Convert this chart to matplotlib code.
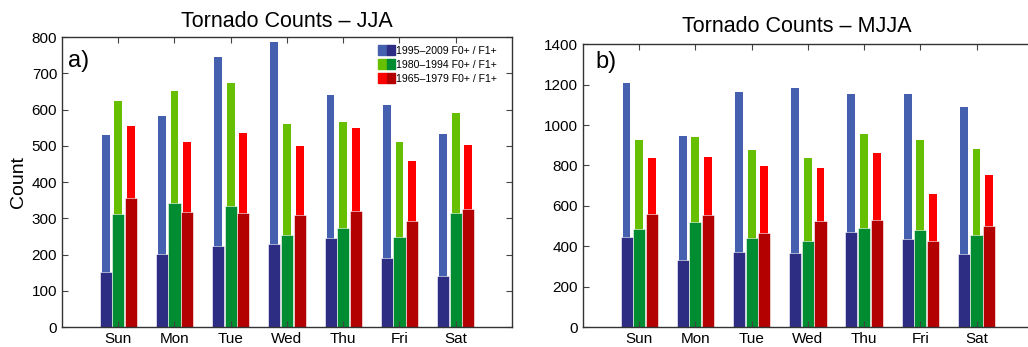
"""
Tornado counts by day of week: JJA and MJJA seasons, three periods, F0+ / F1+.
"""

import numpy as np
import matplotlib
matplotlib.use('Agg')
import matplotlib.pyplot as plt
from matplotlib.legend_handler import HandlerTuple
from matplotlib.patches import Patch

plt.rcParams['font.family'] = ['Liberation Sans', 'DejaVu Sans']

days = ['Sun', 'Mon', 'Tue', 'Wed', 'Thu', 'Fri', 'Sat']
periods = ['1995\u20132009 F0+ / F1+', '1980\u20131994 F0+ / F1+', '1965\u20131979 F0+ / F1+']

# JJA counts (F0+ and F1+) per period
jja_f0_9509 = [530, 582, 745, 786, 640, 612, 532]
jja_f1_9509 = [152, 201, 223, 229, 245, 190, 141]
jja_f0_8094 = [624, 651, 673, 560, 565, 510, 590]
jja_f1_8094 = [312, 342, 334, 254, 273, 248, 314]
jja_f0_6579 = [555, 510, 535, 499, 549, 458, 502]
jja_f1_6579 = [356, 317, 314, 309, 320, 292, 325]

# MJJA counts
mjja_f0_9509 = [1208, 945, 1164, 1183, 1154, 1154, 1089]
mjja_f1_9509 = [445, 331, 370, 365, 469, 435, 360]
mjja_f0_8094 = [926, 940, 876, 836, 955, 926, 881]
mjja_f1_8094 = [484, 519, 440, 425, 489, 479, 455]
mjja_f0_6579 = [836, 841, 797, 787, 861, 661, 752]
mjja_f1_6579 = [559, 554, 464, 524, 529, 425, 499]

light_colors = ['#4460ae', '#66bf00', '#ff0000']
dark_colors = ['#2e2d84', '#008c30', '#b30000']


def draw_panel(ax, f0_list, f1_list, ymax, ystep, right_ticks=True):
    x = np.arange(1, len(days) + 1)
    offsets = [-0.225, 0.0, 0.225]
    for f0, f1, off, lc, dc in zip(f0_list, f1_list, offsets, light_colors, dark_colors):
        ax.bar(x + off, f0, width=0.14, color=lc, linewidth=0)
        ax.bar(x + off, f1, width=0.215, color=dc, edgecolor='white', linewidth=0.4)
    ax.set_xlim(0, 8)
    ax.set_ylim(0, ymax)
    ax.set_xticks(x)
    ax.set_xticklabels(days)
    ax.set_yticks(np.arange(0, ymax + 1, ystep))
    ax.tick_params(direction='in', top=True, right=right_ticks, length=4, labelsize=11,
                   width=0.8, color='#444444')
    for s in ax.spines.values():
        s.set_linewidth(1.0)
        s.set_color('#333333')


fig = plt.figure(figsize=(10.28, 3.47), dpi=100)

# Panel a
ax1 = fig.add_axes([0.0603, 0.0576, 0.4377, 0.8357])
draw_panel(ax1, [jja_f0_9509, jja_f0_8094, jja_f0_6579],
           [jja_f1_9509, jja_f1_8094, jja_f1_6579], 800, 100)
ax1.set_title('Tornado Counts \u2013 JJA', fontsize=15.5, pad=7.2)
ax1.set_ylabel('Count', fontsize=14, labelpad=3)
ax1.text(0.013, 0.955, 'a)', transform=ax1.transAxes, fontsize=17, va='top', ha='left')

handles = [(Patch(color=lc), Patch(color=dc)) for lc, dc in zip(light_colors, dark_colors)]
ax1.legend(handles, periods, handler_map={tuple: HandlerTuple(ndivide=None, pad=0)},
           loc='upper right', bbox_to_anchor=(0.985, 1.0), frameon=False, fontsize=7.6,
           handlelength=1.55, handleheight=1.15, handletextpad=0.15, labelspacing=0.3,
           borderaxespad=0.35)

# Panel b (right edge runs off the figure, as in the original)
ax2 = fig.add_axes([0.5671, 0.0576, 0.4375, 0.8147])
draw_panel(ax2, [mjja_f0_9509, mjja_f0_8094, mjja_f0_6579],
           [mjja_f1_9509, mjja_f1_8094, mjja_f1_6579], 1400, 200, right_ticks=False)
ax2.spines['right'].set_visible(False)
ax2.set_title('Tornado Counts \u2013 MJJA', fontsize=15.5, pad=8.6, x=0.476)
ax2.text(0.027, 0.975, 'b)', transform=ax2.transAxes, fontsize=17, va='top', ha='left')

fig.savefig('out.png', dpi=100)
